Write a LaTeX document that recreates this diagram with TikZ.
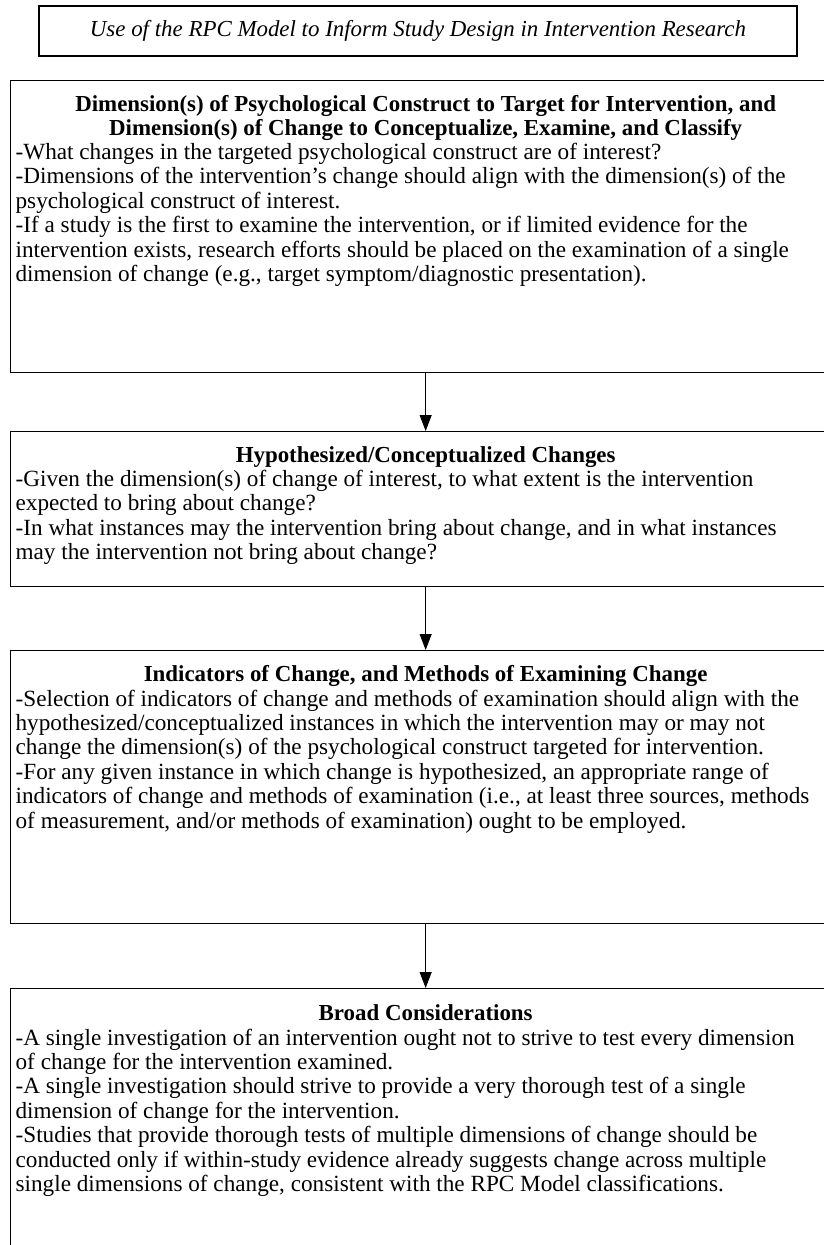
\documentclass[tikz,border=0pt]{standalone}
\usepackage{fontspec}
\setmainfont{Liberation Serif}
\usetikzlibrary{arrows.meta}
\newcommand{\headfont}{\fontsize{22.9}{24}\selectfont\bfseries}
\newcommand{\bodyfont}{\fontsize{23.2}{24.4}\selectfont\mdseries}
\newcommand{\headpart}[2]{{\centering\headfont\rule{0pt}{#1pt}#2\par}}
\newcommand{\bodypart}[1]{{\raggedright\leftskip=5pt\bodyfont #1\par}}
\begin{document}
\begin{tikzpicture}[x=1pt,y=-1pt,
  frame/.style={draw, line width=1.3pt, inner sep=0pt, anchor=north west},
  titlebox/.style={draw, line width=1.2pt, minimum width=758pt, minimum height=50pt,
    inner sep=0pt, font=\fontsize{22.9}{25}\selectfont\itshape},
  arr/.style={line width=1pt, -{Triangle[width=12pt,length=16pt]}}]
\useasboundingbox (0,0) rectangle (824,1245);
\clip (0,0) rectangle (824,1245);

\node[titlebox] (t) at (418,31) {Use of the RPC Model to Inform Study Design in Intervention Research};

\node[frame] (b1) at (10,80) {\parbox[t][292pt][t]{830pt}{%
\headpart{30.5}{Dimension(s) of Psychological Construct to Target for Intervention, and\\
Dimension(s) of Change to Conceptualize, Examine, and Classify}%
\bodypart{-What changes in the targeted psychological construct are of interest?\\
-Dimensions of the intervention’s change should align with the dimension(s) of the\\
psychological construct of interest.\\
-If a study is the first to examine the intervention, or if limited evidence for the\\
intervention exists, research efforts should be placed on the examination of a single\\
dimension of change (e.g., target symptom/diagnostic presentation).}}};

\node[frame] (b2) at (10,431) {\parbox[t][155pt][t]{830pt}{%
\headpart{30.5}{Hypothesized/Conceptualized Changes}%
\bodypart{-Given the dimension(s) of change of interest, to what extent is the intervention\\
expected to bring about change?\\
-In what instances may the intervention bring about change, and in what instances\\
may the intervention not bring about change?}}};

\node[frame] (b3) at (10,650) {\parbox[t][273pt][t]{830pt}{%
\headpart{31}{Indicators of Change, and Methods of Examining Change}%
\bodypart{-Selection of indicators of change and methods of examination should align with the\\
hypothesized/conceptualized instances in which the intervention may or may not\\
change the dimension(s) of the psychological construct targeted for intervention.\\
-For any given instance in which change is hypothesized, an appropriate range of\\
indicators of change and methods of examination (i.e., at least three sources, methods\\
of measurement, and/or methods of examination) ought to be employed.}}};

\node[frame] (b4) at (10,988) {\parbox[t][290pt][t]{830pt}{%
\headpart{32}{Broad Considerations}%
\bodypart{-A single investigation of an intervention ought not to strive to test every dimension\\
of change for the intervention examined.\\
-A single investigation should strive to provide a very thorough test of a single\\
dimension of change for the intervention.\\
-Studies that provide thorough tests of multiple dimensions of change should be\\
conducted only if within-study evidence already suggests change across multiple\\
single dimensions of change, consistent with the RPC Model classifications.}}};

\draw[arr] (b1.south) -- (b2.north);
\draw[arr] (b2.south) -- (b3.north);
\draw[arr] (b3.south) -- (b4.north);
\end{tikzpicture}
\end{document}
